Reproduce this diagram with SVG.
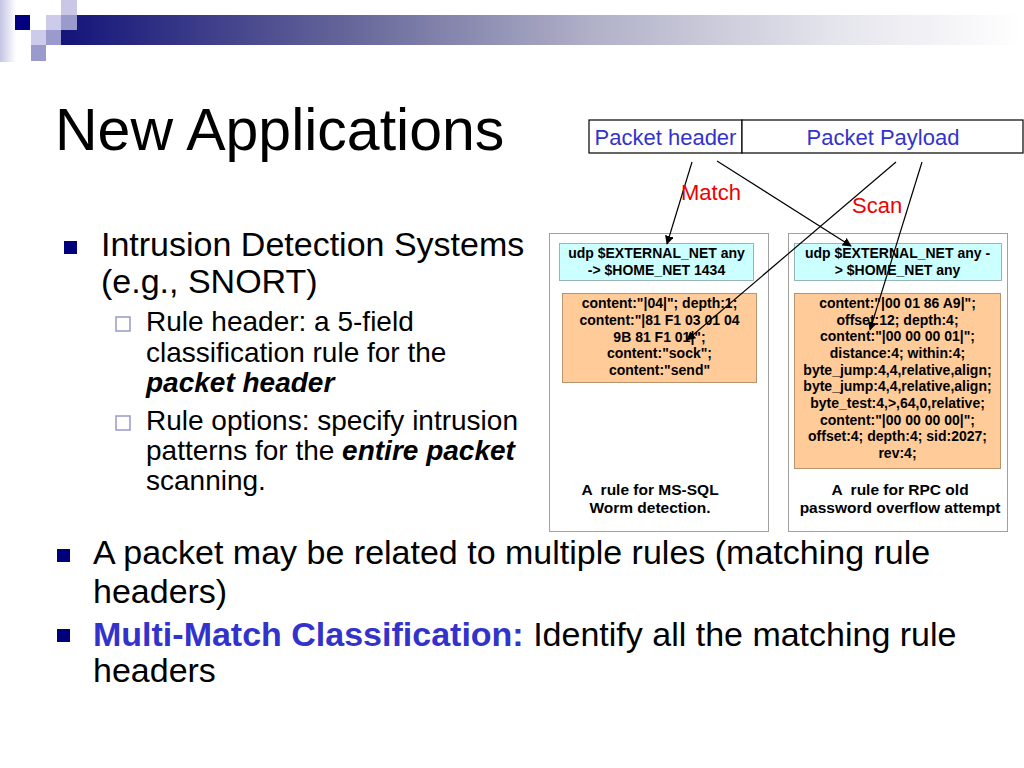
<svg xmlns="http://www.w3.org/2000/svg" width="1024" height="768" viewBox="0 0 1024 768">
<defs>
<linearGradient id="bar" x1="0" y1="0" x2="1" y2="0">
<stop offset="0" stop-color="#14147a"/>
<stop offset="0.3" stop-color="#66669a"/>
<stop offset="0.55" stop-color="#b0b0c8"/>
<stop offset="0.8" stop-color="#e4e4ec"/>
<stop offset="1" stop-color="#ffffff"/>
</linearGradient>
<linearGradient id="strip" x1="0" y1="0" x2="1" y2="0">
<stop offset="0" stop-color="#c4c4e4"/>
<stop offset="1" stop-color="#ffffff"/>
</linearGradient>
<marker id="ah" viewBox="0 0 10 10" refX="9" refY="5" markerWidth="9" markerHeight="9" markerUnits="userSpaceOnUse" orient="auto">
<path d="M0,0 L10,5 L0,10 z" fill="#000"/>
</marker>
<style>
.t{font-family:"Liberation Sans",Arial,sans-serif;fill:#000}
.big{font-size:34px}
.sub{font-size:28px}
.blue{fill:#3333cc}
.red{fill:#ee0000;font-size:22px}
.rb{font-family:"Liberation Sans",Arial,sans-serif;font-weight:bold;font-size:14px;fill:#000;text-anchor:middle}
.cap{font-family:"Liberation Sans",Arial,sans-serif;font-weight:bold;font-size:15.5px;fill:#000;text-anchor:middle;white-space:pre}
.outer{fill:#fff;stroke:#a0a0a0;stroke-width:1}
.cyan{fill:#ccffff;stroke:#99b4b4;stroke-width:1}
.orange{fill:#ffcc99;stroke:#b8956e;stroke-width:1}
.pk{fill:#fff;stroke:#000;stroke-width:1.2}
.conn{stroke:#000;stroke-width:1.2;fill:none;marker-end:url(#ah)}
.b1{fill:#00007a}
.b2{fill:#fff;stroke:#9999cc;stroke-width:1.5}
</style>
</defs>
<rect width="1024" height="768" fill="#fff"/>
<g id="decoration">
<rect x="0" y="0" width="16" height="62" fill="url(#strip)"/>
<rect x="61" y="15" width="963" height="30" fill="url(#bar)"/>
<rect x="15" y="15" width="15" height="15" fill="#000080"/>
<rect x="46" y="15" width="15" height="15" fill="#ccccea"/>
<rect x="61" y="0" width="16" height="15" fill="#c8c8e6"/>
<rect x="61" y="15" width="16" height="15" fill="#9a9acc"/>
<rect x="31" y="30" width="15" height="15" fill="#ccccea"/>
<rect x="46" y="30" width="15" height="15" fill="#9a9acc"/>
<rect x="31" y="45" width="15" height="16" fill="#9a9acc"/>
</g>
<g id="title">
<text class="t" x="55" y="150" font-size="59">New Applications</text>
</g>
<g id="left-text">
<rect class="b1" x="64" y="241" width="13" height="13"/>
<text class="t big" x="101" y="256">Intrusion Detection Systems</text>
<text class="t big" x="101" y="293">(e.g., SNORT)</text>
<rect class="b2" x="116" y="317" width="14" height="14"/>
<text class="t sub" x="146" y="331">Rule header: a 5-field</text>
<text class="t sub" x="146" y="362">classification rule for the</text>
<text class="t sub" x="146" y="392" font-weight="bold" font-style="italic">packet header</text>
<rect class="b2" x="116" y="416" width="14" height="14"/>
<text class="t sub" x="146" y="430">Rule options: specify intrusion</text>
<text class="t sub" x="146" y="460">patterns for the <tspan font-weight="bold" font-style="italic">entire packet</tspan></text>
<text class="t sub" x="146" y="490">scanning.</text>
</g>
<g id="bottom-text">
<rect class="b1" x="57" y="549" width="13" height="13"/>
<text class="t big" x="93" y="564">A packet may be related to multiple rules (matching rule</text>
<text class="t big" x="93" y="603">headers)</text>
<rect class="b1" x="57" y="629" width="13" height="13"/>
<text class="t big" x="93" y="646"><tspan class="blue" font-weight="bold">Multi-Match Classification:</tspan> Identify all the matching rule</text>
<text class="t big" x="93" y="682">headers</text>
</g>
<g id="packet-header">
<rect class="pk" x="589" y="120" width="153" height="33"/>
<text class="t blue" x="665.5" y="145" font-size="22" text-anchor="middle">Packet header</text>
</g>
<g id="packet-payload">
<rect class="pk" x="742" y="120" width="281" height="33"/>
<text class="t blue" x="883" y="145" font-size="22" text-anchor="middle">Packet Payload</text>
</g>
<g id="rule-mssql">
<rect class="outer" x="549.5" y="233.5" width="219" height="298"/>
<rect class="cyan" x="559.5" y="243.5" width="194" height="37"/>
<text class="rb" x="656.5" y="258">udp $EXTERNAL_NET any</text>
<text class="rb" x="656.5" y="275">-&gt; $HOME_NET 1434</text>
<rect class="orange" x="562.5" y="293.5" width="194" height="89"/>
<text class="rb" x="659.5" y="308">content:"|04|"; depth:1;</text>
<text class="rb" x="659.5" y="325">content:"|81 F1 03 01 04</text>
<text class="rb" x="659.5" y="342">9B 81 F1 01|";</text>
<text class="rb" x="659.5" y="358">content:"sock";</text>
<text class="rb" x="659.5" y="375">content:"send"</text>
<text class="cap" x="650" y="495" xml:space="preserve">A  rule for MS-SQL</text>
<text class="cap" x="650" y="513">Worm detection.</text>
</g>
<g id="rule-rpc">
<rect class="outer" x="788.5" y="233.5" width="219" height="298"/>
<rect class="cyan" x="794.5" y="243.5" width="207" height="37"/>
<text class="rb" x="897.5" y="258">udp $EXTERNAL_NET any -</text>
<text class="rb" x="897.5" y="275">&gt; $HOME_NET any</text>
<rect class="orange" x="794.5" y="293.5" width="206" height="175"/>
<text class="rb" x="897.5" y="308">content:"|00 01 86 A9|";</text>
<text class="rb" x="897.5" y="325">offset:12; depth:4;</text>
<text class="rb" x="897.5" y="341">content:"|00 00 00 01|";</text>
<text class="rb" x="897.5" y="358">distance:4; within:4;</text>
<text class="rb" x="897.5" y="375">byte_jump:4,4,relative,align;</text>
<text class="rb" x="897.5" y="391">byte_jump:4,4,relative,align;</text>
<text class="rb" x="897.5" y="408">byte_test:4,&gt;,64,0,relative;</text>
<text class="rb" x="897.5" y="425">content:"|00 00 00 00|";</text>
<text class="rb" x="897.5" y="441">offset:4; depth:4; sid:2027;</text>
<text class="rb" x="897.5" y="458">rev:4;</text>
<text class="cap" x="900" y="495" xml:space="preserve">A  rule for RPC old</text>
<text class="cap" x="900" y="513">password overflow attempt</text>
</g>
<g id="connectors">
<line class="conn" x1="692" y1="162" x2="667" y2="244"/>
<line class="conn" x1="717" y1="161" x2="851" y2="246"/>
<line class="conn" x1="896" y1="162" x2="687" y2="340"/>
<line class="conn" x1="922" y1="162" x2="870" y2="330"/>
<text class="t red" x="681" y="200">Match</text>
<text class="t red" x="852" y="213">Scan</text>
</g>
</svg>
